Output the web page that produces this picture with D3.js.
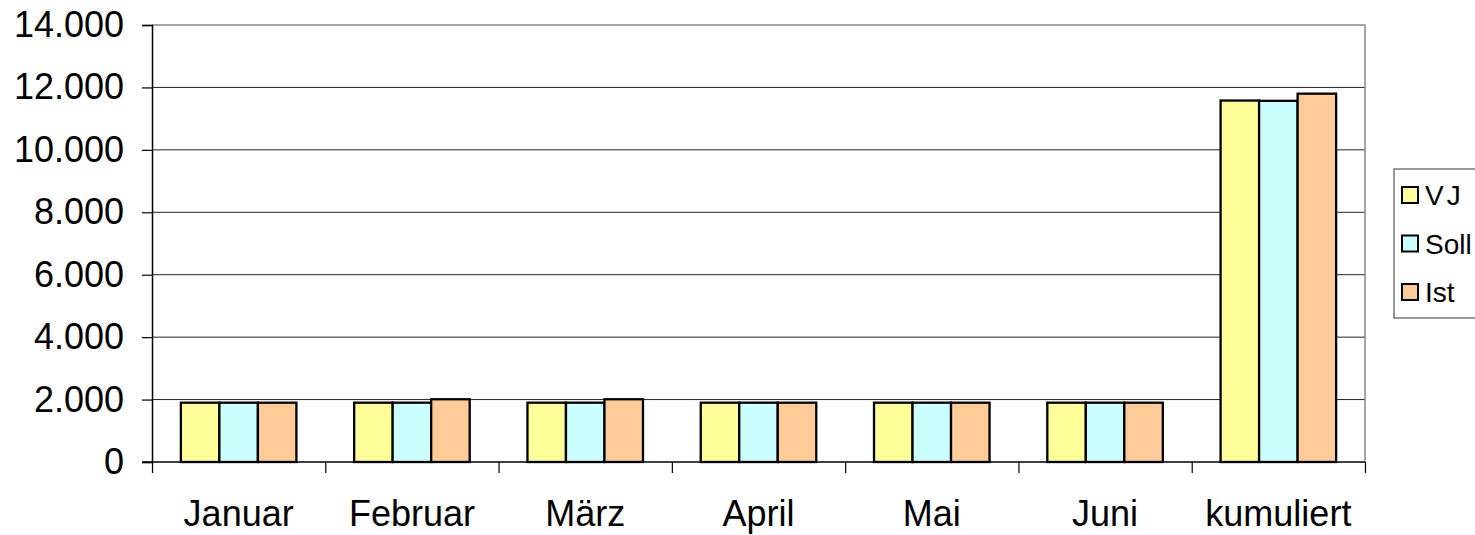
<!DOCTYPE html>
<html>
<head>
<meta charset="utf-8">
<script src="https://cdn.jsdelivr.net/npm/d3@7"></script>
<style>
  body { margin: 0; background: #fff; }
  svg { display: block; font-family: "Liberation Sans", Arial, sans-serif; }
</style>
</head>
<body>
<svg id="chart" width="1475" height="535"></svg>
<script>
// data
const categories = ['Januar', 'Februar', 'März', 'April', 'Mai', 'Juni', 'kumuliert'];
const seriesNames = ['VJ', 'Soll', 'Ist'];
const vj = [1900, 1900, 1900, 1900, 1900, 1900, 11580];
const soll = [1900, 1900, 1900, 1900, 1900, 1900, 11570];
const ist = [1900, 2010, 2010, 1900, 1900, 1900, 11800];
const yTicks = [0, 2000, 4000, 6000, 8000, 10000, 12000, 14000];
const colors = ['#FFFF99', '#CCFFFF', '#FFCC99'];

const seriesValues = [vj, soll, ist];

const svg = d3.select('#chart');
const plotLeft = 152, plotRight = 1365, plotTop = 25, plotBottom = 462;

const de = d3.formatLocale({decimal: ',', thousands: '.', grouping: [3], currency: ['', ' €']});
const fmt = de.format(',.0f');

const y = d3.scaleLinear().domain([0, 14000]).range([plotBottom, plotTop]);
const x = d3.scaleBand().domain(categories).range([plotLeft, plotRight]).padding(0);
const bw = x.bandwidth();
const groupW = bw * 3 / 4.5;
const xs = d3.scaleBand().domain(seriesNames).range([0, groupW]).padding(0);
const xEdge = d3.scaleLinear().domain([0, categories.length]).range([plotLeft, plotRight]);

// gridlines
svg.append('g').selectAll('line').data(yTicks.filter(t => t > 0 && t < 14000)).enter()
  .append('line')
  .attr('x1', plotLeft).attr('x2', plotRight)
  .attr('y1', d => y(d)).attr('y2', d => y(d))
  .style('stroke', '#222').style('stroke-width', 1);

// plot border top + right
svg.append('path')
  .attr('d', `M${plotLeft},${y(14000)}H${plotRight}V${plotBottom}`)
  .style('fill', 'none').style('stroke', '#888').style('stroke-width', 1.5);

// bars
const groups = svg.append('g').selectAll('g').data(categories).enter()
  .append('g')
  .attr('transform', d => `translate(${x(d) + (bw - groupW) / 2},0)`);

groups.selectAll('rect').data((d, i) => seriesNames.map((s, j) => ({s: s, v: seriesValues[j][i], c: colors[j]})))
  .enter().append('rect')
  .attr('x', d => xs(d.s))
  .attr('width', xs.bandwidth())
  .attr('y', d => y(d.v))
  .attr('height', d => plotBottom - y(d.v))
  .style('fill', d => d.c)
  .style('stroke', '#000').style('stroke-width', 2.3);

// y axis
const yAxis = svg.append('g').attr('transform', `translate(${plotLeft},0)`)
  .call(d3.axisLeft(y).tickValues(yTicks).tickSize(10).tickPadding(18).tickFormat(fmt));
yAxis.select('.domain').style('stroke', '#000').style('stroke-width', 1.5);
yAxis.selectAll('line').style('stroke', '#000').style('stroke-width', 1.2);
yAxis.selectAll('text').style('font-size', '36px').style('fill', '#000')
  .style('font-family', '"Liberation Sans", Arial, sans-serif');

// x axis ticks at category edges
const xAxis = svg.append('g').attr('transform', `translate(0,${plotBottom})`)
  .call(d3.axisBottom(xEdge).tickValues(d3.range(0, categories.length + 1)).tickSize(11).tickFormat(''));
xAxis.select('.domain').remove();
xAxis.selectAll('line').style('stroke', '#000').style('stroke-width', 1.2);
svg.append('line')
  .attr('x1', plotLeft - 10).attr('x2', plotRight)
  .attr('y1', plotBottom).attr('y2', plotBottom)
  .style('stroke', '#000').style('stroke-width', 1.5);

// category labels
const xLab = svg.append('g').attr('transform', `translate(0,${plotBottom})`)
  .call(d3.axisBottom(x).tickSize(0).tickPadding(38));
xLab.select('.domain').remove();
xLab.selectAll('text').style('font-size', '36px').style('fill', '#000')
  .style('font-family', '"Liberation Sans", Arial, sans-serif');

// legend
const legend = svg.append('g');
legend.append('rect')
  .attr('x', 1394).attr('y', 169).attr('width', 100).attr('height', 149)
  .style('fill', '#fff').style('stroke', '#555').style('stroke-width', 1.2);
const rowY = d3.scalePoint().domain(seriesNames).range([195, 292]);
const items = legend.selectAll('g.item').data(seriesNames).enter()
  .append('g').attr('class', 'item')
  .attr('transform', d => `translate(1402,${rowY(d)})`);
items.append('rect')
  .attr('x', 0).attr('y', -8).attr('width', 16).attr('height', 16)
  .style('fill', (d, i) => colors[i])
  .style('stroke', '#000').style('stroke-width', 2);
items.append('text')
  .attr('x', 23).attr('y', 0).attr('dy', '0.36em')
  .style('font-size', '28px')
  .style('letter-spacing', d => d === 'VJ' ? '3px' : '0px')
  .text(d => d);
</script>
</body>
</html>
